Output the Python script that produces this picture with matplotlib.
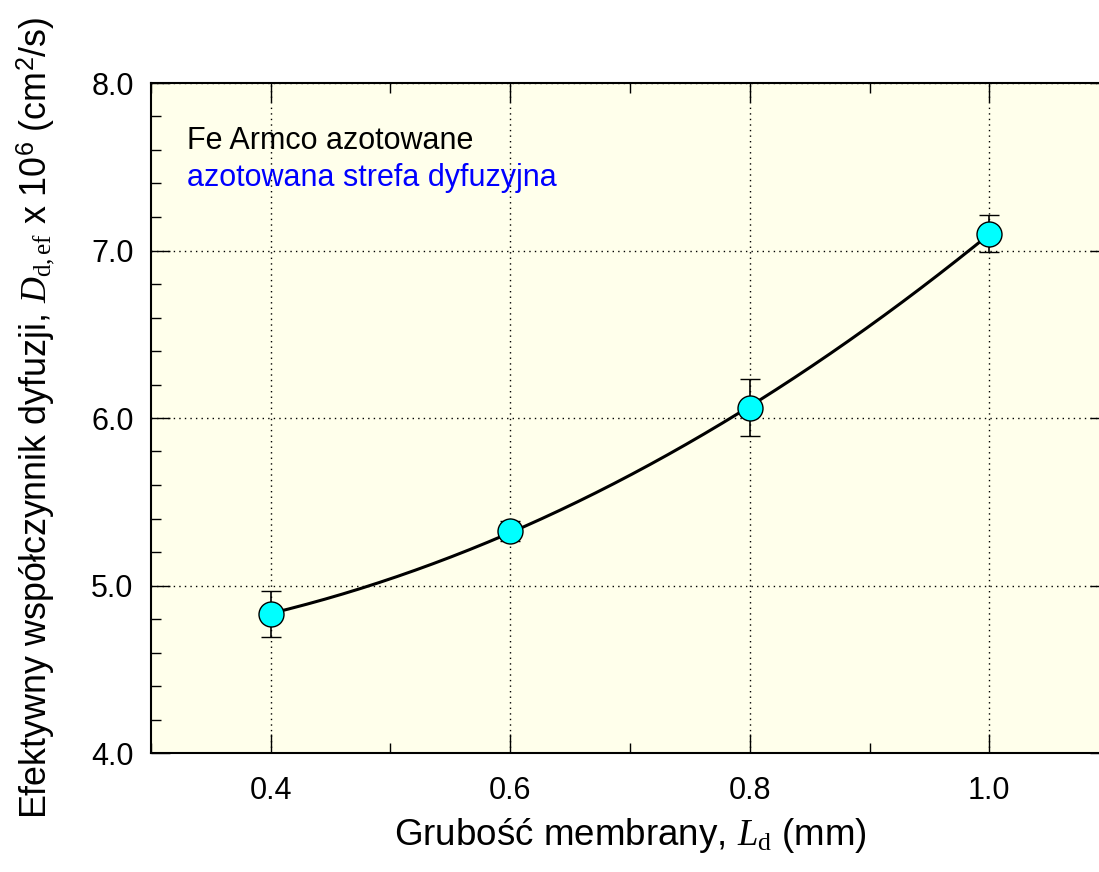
import numpy as np
import matplotlib
matplotlib.use("Agg")
import matplotlib.pyplot as plt

# Data
thickness_mm = [0.4, 0.6, 0.8, 1.0]
D_eff = [4.83, 5.325, 6.06, 7.10]
D_err = [0.14, 0.06, 0.17, 0.11]

x_ticks = [0.4, 0.6, 0.8, 1.0]
y_ticks = [4.0, 5.0, 6.0, 7.0, 8.0]

plt.rcParams['font.family'] = ['Liberation Sans', 'DejaVu Sans']
plt.rcParams['mathtext.fontset'] = 'custom'
plt.rcParams['mathtext.rm'] = 'Liberation Serif'
plt.rcParams['mathtext.it'] = 'Liberation Serif:italic'
plt.rcParams['mathtext.sf'] = 'Liberation Sans'

fig = plt.figure(figsize=(10.99, 8.72), dpi=100)
ax = fig.add_axes([151/1099, 1-753/872, 958/1099, 670/872])
ax.set_facecolor('#FFFFEB')

# fitted trend curve (quadratic fit of the data)
coef = np.polyfit(thickness_mm, D_eff, 2)
xs = np.linspace(min(thickness_mm), max(thickness_mm), 200)
ax.plot(xs, np.polyval(coef, xs), color='black', lw=2.2, zorder=3)

ax.errorbar(thickness_mm, D_eff, yerr=D_err, fmt='o', ms=18, mfc='#00FFFF',
            mec='black', mew=1.0, ecolor='black', elinewidth=1.2, capsize=7.5,
            capthick=1.2, zorder=4)

ax.set_xlim(0.3, 1.1)
ax.set_ylim(4.0, 8.0)
ax.set_xticks(x_ticks)
ax.set_xticklabels([f"{v:.1f}" for v in x_ticks])
ax.set_yticks(y_ticks)
ax.set_yticklabels([f"{v:.1f}" for v in y_ticks])
ax.set_xticks(np.arange(0.3, 1.1001, 0.1), minor=True)
ax.set_yticks(np.arange(4.0, 8.0001, 0.2), minor=True)

ax.tick_params(which='both', direction='in', top=True, right=True, colors='black')
ax.tick_params(which='major', length=14, width=1.0, labelsize=22)
ax.tick_params(which='minor', length=7, width=1.0)
ax.tick_params(axis='x', which='major', pad=16.5)
ax.tick_params(axis='y', which='major', pad=12.5)

for s in ax.spines.values():
    s.set_linewidth(1.5)

ax.grid(True, which='major', color='black', linestyle=(0, (1, 3)), lw=1.0)
ax.set_axisbelow(True)

ax.text(0.330, 7.655, "Fe Armco azotowane", fontsize=22, color='black', va='center', ha='left')
ax.text(0.330, 7.435, "azotowana strefa dyfuzyjna", fontsize=22, color='#0000FF', va='center', ha='left')

ax.set_xlabel(r"Grubość membrany, $L_{\mathrm{d}}$ (mm)", fontsize=26.5, labelpad=7.5)
ax.set_ylabel(r"Efektywny współczynnik dyfuzji, $D_{\mathrm{d,ef}}$ x 10$^{\mathsf{6}}$ (cm$^{\mathsf{2}}$/s)",
              fontsize=25.8)
ax.yaxis.set_label_coords(-0.098, 0.5)

fig.savefig("out.png", dpi=100)
